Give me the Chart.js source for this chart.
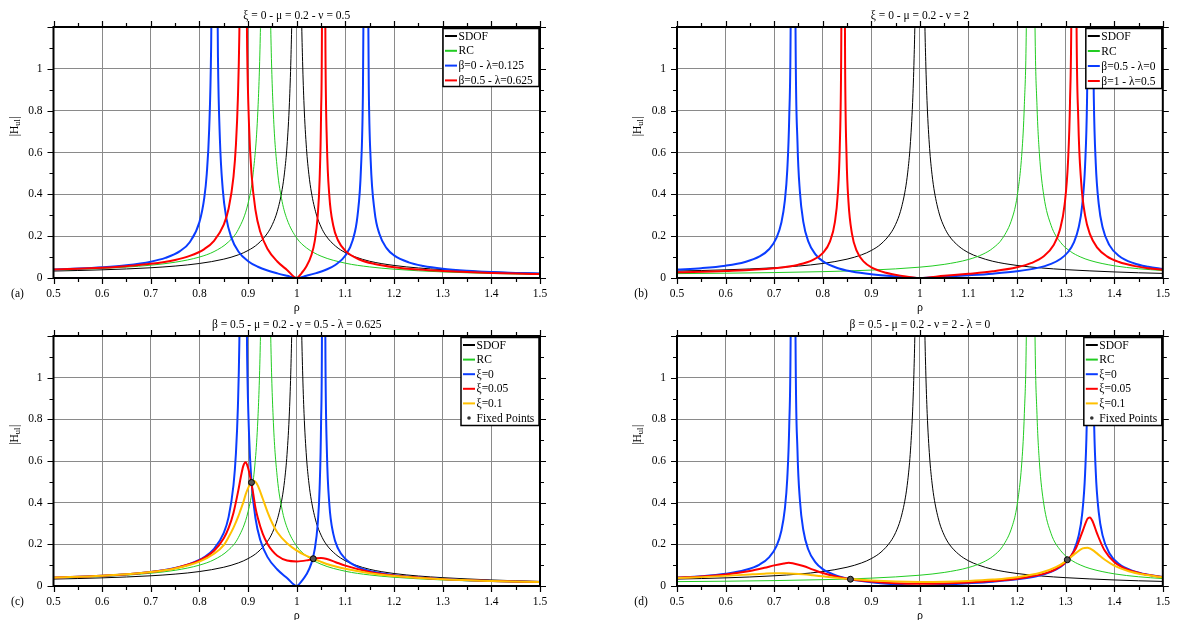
<!DOCTYPE html>
<html><head><meta charset="utf-8">
<script src="https://cdn.jsdelivr.net/npm/chart.js@4"></script>
<style>
html,body{margin:0;padding:0;background:#fff;}
#wrap{position:relative;width:1179px;height:620px;overflow:hidden;}
canvas{position:absolute;}
</style></head><body>
<div id="wrap">
<canvas id="cc" width="590" height="310" style="left:0;top:310px"></canvas>
<canvas id="cd" width="589" height="310" style="left:590px;top:310px"></canvas>
<canvas id="ca" width="590" height="320" style="left:0;top:0"></canvas>
<canvas id="cb" width="589" height="320" style="left:590px;top:0"></canvas>
</div>
<script>
// ---------- titles / labels ----------
const titles = ['ξ = 0 - μ = 0.2 - ν = 0.5', 'ξ = 0 - μ = 0.2 - ν = 2',
  'β = 0.5 - μ = 0.2 - ν = 0.5 - λ = 0.625', 'β = 0.5 - μ = 0.2 - ν = 2 - λ = 0'];
const letters = ['(a)', '(b)', '(c)', '(d)'];
const xTickStep = 0.1, yTickStep = 0.2;
const legendA = ['SDOF', 'RC', 'β=0 - λ=0.125', 'β=0.5 - λ=0.625'];
const legendB = ['SDOF', 'RC', 'β=0.5 - λ=0', 'β=1 - λ=0.5'];
const legendCD = ['SDOF', 'RC', 'ξ=0', 'ξ=0.05', 'ξ=0.1', 'Fixed Points'];

// ---------- SDOF ----------
const rhoSDOF = [0.5,0.55,0.6,0.65,0.7,0.75,0.8,0.85,0.88,0.9,0.92,0.94,0.95,0.96,0.97,0.975,0.98,0.985,0.988,0.99,0.993,0.996,1.004,1.007,1.01,1.012,1.015,1.02,1.025,1.03,1.04,1.05,1.06,1.08,1.1,1.12,1.15,1.2,1.25,1.3,1.35,1.4,1.45,1.5];
const sdof = [0.0333,0.0358,0.0391,0.0433,0.049,0.0571,0.0694,0.0901,0.1108,0.1316,0.1628,0.2148,0.2564,0.3189,0.423,0.5063,0.6313,0.8396,1.048,1.256,1.792,3.131,3.119,1.78,1.244,1.036,0.827,0.619,0.494,0.411,0.306,0.244,0.202,0.152,0.121,0.101,0.08,0.06,0.048,0.04,0.034,0.029,0.025,0.022];

// ---------- RC, nu = 0.5 ----------
const rhoRC05 = [0.5,0.55,0.6,0.65,0.7,0.75,0.8,0.83,0.86,0.88,0.9,0.91,0.92,0.925,0.928,0.932,0.94,0.944,0.947,0.952,0.96,0.97,0.98,1.0,1.02,1.05,1.1,1.15,1.2,1.25,1.3,1.35,1.4,1.45,1.5];
const rc05 = [0.0378,0.0412,0.0458,0.0521,0.0613,0.0754,0.1002,0.1263,0.1733,0.2326,0.3576,0.4927,0.7965,1.154,1.585,3.158,3.16,1.575,1.143,0.7835,0.5201,0.3652,0.2807,0.1909,0.144,0.1045,0.0708,0.053,0.042,0.0345,0.0291,0.025,0.0218,0.0193,0.0172];

// ---------- RC, nu = 2 ----------
const rhoRC2 = [0.5,0.6,0.7,0.8,0.9,1.0,1.05,1.1,1.13,1.15,1.17,1.19,1.2,1.21,1.215,1.219,1.224,1.232,1.237,1.241,1.246,1.255,1.27,1.29,1.31,1.33,1.35,1.4,1.45,1.5];
const rc2 = [0.021,0.023,0.0259,0.0304,0.0378,0.0519,0.0651,0.0886,0.1142,0.1423,0.1896,0.2869,0.388,0.601,0.8286,1.194,2.67,2.70,1.194,0.824,0.594,0.394,0.2518,0.1691,0.1268,0.1012,0.0839,0.0584,0.0444,0.0356];

// ---------- (a) beta=0, lambda=0.125 ----------
const rhoA1 = [0.5,0.55,0.6,0.65,0.7,0.73,0.76,0.78,0.8,0.81,0.815,0.82,0.824,0.827,0.835,0.838,0.842,0.848,0.855,0.865,0.88,0.9,0.92,0.94,0.96,0.98,1.0,1.02,1.04,1.06,1.08,1.1,1.115,1.125,1.132,1.136,1.139,1.145,1.148,1.152,1.16,1.17,1.185,1.2,1.23,1.26,1.3,1.35,1.4,1.45,1.5];
const hA1 = [0.0404,0.0449,0.0513,0.0611,0.0781,0.096,0.1286,0.1712,0.2678,0.3845,0.4973,0.7122,1.104,1.91,1.88,1.062,0.6657,0.421,0.2902,0.1965,0.127,0.0805,0.0538,0.0358,0.0222,0.0107,0,0.0109,0.0234,0.0395,0.0634,0.1073,0.1805,0.2994,0.5228,0.883,1.78,1.84,0.924,0.561,0.3186,0.2101,0.1416,0.1081,0.0747,0.0578,0.0447,0.0351,0.0288,0.0245,0.0212];

// ---------- beta=0.5, lambda=0.625, xi=0 (red in a, blue in c) ----------
const rhoA2 = [0.5,0.55,0.6,0.65,0.7,0.75,0.78,0.81,0.83,0.85,0.86,0.87,0.875,0.879,0.882,0.885,0.895,0.898,0.902,0.907,0.915,0.925,0.94,0.96,0.98,1.0,1.01,1.02,1.03,1.037,1.043,1.047,1.05,1.052,1.054,1.057,1.059,1.062,1.067,1.075,1.085,1.1,1.13,1.16,1.2,1.25,1.3,1.35,1.4,1.45,1.5];
const hA2 = [0.0401,0.0439,0.0492,0.0566,0.0677,0.0865,0.1056,0.1384,0.1777,0.2553,0.332,0.4848,0.637,0.858,1.169,1.85,1.786,1.10,0.724,0.4998,0.327,0.2207,0.1386,0.0791,0.0385,0,0.0237,0.056,0.1087,0.1766,0.295,0.47,0.784,1.341,4.1,2.13,1.09,0.642,0.3925,0.2512,0.1792,0.1295,0.0871,0.0671,0.0519,0.0406,0.0333,0.0281,0.0243,0.0213,0.0189];

// ---------- beta=0.5, lambda=0, xi=0 (blue in b and d) ----------
const rhoB1 = [0.5,0.55,0.6,0.64,0.67,0.69,0.705,0.715,0.722,0.727,0.731,0.734,0.737,0.741,0.744,0.748,0.753,0.76,0.77,0.785,0.8,0.83,0.86,0.9,0.95,1.0,1.05,1.1,1.15,1.2,1.24,1.27,1.29,1.305,1.317,1.327,1.334,1.34,1.344,1.347,1.355,1.358,1.362,1.368,1.376,1.39,1.41,1.44,1.47,1.5];
const hB1 = [0.0402,0.047,0.0587,0.0764,0.103,0.1387,0.1929,0.2667,0.37,0.517,0.768,1.22,3.04,2.96,1.18,0.649,0.4115,0.2687,0.1765,0.1132,0.0809,0.0479,0.031,0.0177,0.0074,0,0.0064,0.0129,0.0207,0.0319,0.0471,0.0677,0.0922,0.1243,0.1703,0.2436,0.346,0.538,0.848,1.49,1.50,0.857,0.547,0.356,0.243,0.1573,0.1052,0.0707,0.0535,0.0432];

// ---------- (b) beta=1, lambda=0.5 ----------
const rhoB2 = [0.5,0.6,0.7,0.75,0.78,0.8,0.815,0.825,0.831,0.835,0.838,0.84,0.844,0.846,0.849,0.853,0.86,0.87,0.885,0.9,0.93,0.96,1.0,1.05,1.1,1.15,1.2,1.23,1.255,1.275,1.288,1.298,1.305,1.309,1.312,1.315,1.319,1.322,1.326,1.332,1.34,1.35,1.365,1.385,1.41,1.44,1.47,1.5];
const hB2 = [0.0275,0.0334,0.0468,0.0637,0.0865,0.1192,0.1753,0.2673,0.4027,0.622,1.073,2.13,2.09,1.033,0.582,0.3627,0.2136,0.1297,0.0767,0.0509,0.0249,0.0113,0,0.0103,0.02,0.0319,0.0511,0.072,0.1041,0.1567,0.2295,0.353,0.562,0.845,1.355,3.4,3.4,1.364,0.76,0.457,0.2995,0.2098,0.1452,0.1033,0.0762,0.058,0.0469,0.0393];

// ---------- (c) damped ----------
const rhoC = [0.5,0.6,0.7,0.75,0.8,0.83,0.85,0.86,0.87,0.88,0.885,0.89,0.895,0.9,0.905,0.91,0.915,0.92,0.93,0.94,0.95,0.96,0.98,1.0,1.02,1.03,1.04,1.05,1.06,1.08,1.1,1.15,1.2,1.3,1.4,1.5];
const hC005 = [0.0401,0.0491,0.0675,0.0859,0.1224,0.1689,0.229,0.2785,0.352,0.46,0.523,0.5756,0.5944,0.5667,0.515,0.45,0.3776,0.3262,0.251,0.2016,0.1682,0.1452,0.122,0.118,0.123,0.128,0.133,0.134,0.131,0.1143,0.0979,0.0675,0.0504,0.033,0.0242,0.019];
const hC01 = [0.04,0.049,0.0669,0.0843,0.1171,0.1546,0.1966,0.235,0.28,0.335,0.368,0.40,0.44,0.47,0.493,0.505,0.50,0.482,0.42,0.355,0.30,0.258,0.205,0.17,0.145,0.135,0.126,0.116,0.107,0.0935,0.0825,0.0615,0.048,0.0323,0.0239,0.0188];
const fixRhoC = [0.907, 1.034];
const fixHC = [0.497, 0.131];

// ---------- (d) damped ----------
const rhoD = [0.5,0.55,0.6,0.65,0.68,0.7,0.72,0.73,0.74,0.76,0.78,0.8,0.83,0.857,0.9,0.95,1.0,1.05,1.1,1.15,1.2,1.25,1.28,1.3,1.32,1.335,1.345,1.35,1.355,1.365,1.38,1.4,1.43,1.46,1.5];
const hD005 = [0.0396,0.0457,0.0554,0.072,0.0873,0.0991,0.1084,0.112,0.1082,0.096,0.0785,0.0623,0.044,0.0327,0.021,0.0133,0.0105,0.0121,0.0167,0.0237,0.0349,0.0559,0.0815,0.1135,0.176,0.2636,0.3228,0.329,0.313,0.2498,0.1712,0.1155,0.0766,0.0572,0.0428];
const hD01 = [0.038,0.0426,0.0486,0.0556,0.0593,0.0608,0.0608,0.0603,0.0591,0.0558,0.0513,0.0463,0.039,0.0332,0.0263,0.0215,0.0198,0.0208,0.0244,0.031,0.0423,0.0645,0.0903,0.1182,0.1564,0.1808,0.1837,0.18,0.1734,0.1554,0.1271,0.0979,0.0707,0.0548,0.0419];
const fixRhoD = [0.857, 1.3035];
const fixHD = [0.0325, 0.126];

// ---------- styling ----------
const FONT = '"Liberation Serif","Times New Roman",serif';
const C_BLACK = '#000000', C_GREEN = '#22cc22', C_BLUE = '#0a3cff', C_RED = '#ff0000', C_YEL = '#ffc000';

function pts(xs, ys) { return xs.map((x, i) => ({x: x, y: ys[i]})); }
function lineDs(label, xs, ys, color, w, order) {
  return {label, data: pts(xs, ys), borderColor: color, backgroundColor: color, borderWidth: w,
    showLine: true, pointRadius: 0, pointHoverRadius: 0, cubicInterpolationMode: 'monotone',
    fill: false, order};
}
function dotDs(label, xs, ys) {
  return {label, data: pts(xs, ys), showLine: false, pointRadius: 3, pointBackgroundColor: '#555',
    pointBorderColor: '#000', pointBorderWidth: 1, borderColor: '#000', backgroundColor: '#555', order: 0};
}

const decor = {
  id: 'decor',
  afterDraw(chart) {
    const o = chart.options.plugins.decor;
    const ctx = chart.ctx, a = chart.chartArea;
    const xs = chart.scales.x, ys = chart.scales.y;
    ctx.save();
    // ticks on four sides
    ctx.strokeStyle = '#000'; ctx.lineWidth = 1.2;
    ctx.beginPath();
    for (let i = 0; i <= 20; i++) {
      const v = 0.5 + i * 0.05; const px = Math.round(xs.getPixelForValue(v)) + 0.5;
      const L = (i % 2 === 0) ? 6 : 4;
      ctx.moveTo(px, a.bottom); ctx.lineTo(px, a.bottom + L);
      ctx.moveTo(px, a.top); ctx.lineTo(px, a.top - L);
    }
    for (let i = 0; i <= 12; i++) {
      const v = i * 0.1; const py = Math.round(ys.getPixelForValue(v)) + 0.5;
      const L = (i % 2 === 0) ? 6 : 4;
      ctx.moveTo(a.left, py); ctx.lineTo(a.left - L, py);
      ctx.moveTo(a.right, py); ctx.lineTo(a.right + L, py);
    }
    ctx.stroke();
    // frame
    ctx.lineWidth = 2;
    ctx.strokeRect(a.left, a.top, a.right - a.left, a.bottom - a.top);
    // title
    ctx.fillStyle = '#000';
    ctx.font = '11.5px ' + FONT;
    ctx.textAlign = 'center'; ctx.textBaseline = 'middle';
    ctx.fillText(o.title, (a.left + a.right) / 2, a.top - 11);
    // x label
    ctx.font = '12px ' + FONT;
    ctx.fillText('ρ', (a.left + a.right) / 2, a.bottom + 30);
    // letter
    ctx.font = '11.5px ' + FONT;
    ctx.fillText(o.letter, a.left - 36, a.bottom + 16);
    // y label |H_ul|
    ctx.save();
    ctx.translate(a.left - 39, (a.top + a.bottom) / 2 - 26);
    ctx.rotate(-Math.PI / 2);
    ctx.textAlign = 'left'; ctx.textBaseline = 'middle';
    ctx.font = '11.5px ' + FONT;
    const w1 = ctx.measureText('|H').width;
    ctx.font = '8.5px ' + FONT;
    const w2 = ctx.measureText('ul').width;
    ctx.font = '11.5px ' + FONT;
    const w3 = ctx.measureText('|').width;
    let x0 = -(w1 + w2 + w3) / 2;
    ctx.fillText('|H', x0, 0);
    ctx.font = '8.5px ' + FONT;
    ctx.fillText('ul', x0 + w1, 3);
    ctx.font = '11.5px ' + FONT;
    ctx.fillText('|', x0 + w1 + w2 + 0.5, 0);
    ctx.restore();
    // legend
    const lg = o.legend;
    const bx = a.right - 1 - lg.w, by = a.top + 1.5;
    ctx.fillStyle = '#fff';
    ctx.fillRect(bx, by, lg.w, lg.h);
    ctx.strokeStyle = '#000'; ctx.lineWidth = 1.5;
    ctx.strokeRect(bx, by, lg.w, lg.h);
    ctx.font = '11.5px ' + FONT;
    ctx.textAlign = 'left'; ctx.textBaseline = 'middle';
    lg.items.forEach((it, i) => {
      const cy = by + 7.5 + i * lg.step;
      if (it.dot) {
        ctx.beginPath(); ctx.arc(bx + 8, cy, 1.8, 0, Math.PI * 2);
        ctx.fillStyle = '#333'; ctx.fill();
      } else {
        ctx.strokeStyle = it.color; ctx.lineWidth = it.w;
        ctx.beginPath(); ctx.moveTo(bx + 2, cy); ctx.lineTo(bx + 14, cy); ctx.stroke();
      }
      ctx.fillStyle = '#000';
      ctx.fillText(it.label, bx + 15.5, cy + 0.5);
    });
    ctx.restore();
  }
};

function makeChart(id, datasets, cfg) {
  const el = document.getElementById(id);
  return new Chart(el, {
    type: 'scatter',
    data: {datasets},
    plugins: [decor],
    options: {
      responsive: false, animation: false, events: [],
      layout: {padding: cfg.pad},
      plugins: {legend: {display: false}, tooltip: {enabled: false}, title: {display: false},
        decor: {title: cfg.title, letter: cfg.letter, legend: cfg.legend}},
      scales: {
        x: {type: 'linear', min: 0.5, max: 1.5,
          afterFit: s => { s.height = cfg.xH; },
          border: {display: false},
          grid: {color: '#8a8a8a', lineWidth: 1, drawTicks: false},
          ticks: {stepSize: xTickStep, autoSkip: false, padding: 9, color: '#000', maxRotation: 0,
            font: {family: FONT, size: 11.5},
            callback: v => String(Math.round(v * 10) / 10)}},
        y: {type: 'linear', min: 0, max: 1.2,
          afterFit: s => { s.width = cfg.yW; },
          border: {display: false},
          grid: {color: '#8a8a8a', lineWidth: 1, drawTicks: false},
          ticks: {stepSize: yTickStep, autoSkip: false, padding: 11, color: '#000',
            font: {family: FONT, size: 11.5},
            callback: v => (v > 1.15 ? '' : String(Math.round(v * 10) / 10))}}
      }
    }
  });
}

function items(labels, colors, widths) {
  return labels.map((l, i) => ({label: l, color: colors[i], w: widths[i], dot: colors[i] === null}));
}

// (a)
makeChart('ca', [
  lineDs(legendA[0], rhoSDOF, sdof, C_BLACK, 1, 5),
  lineDs(legendA[1], rhoRC05, rc05, C_GREEN, 1, 4),
  lineDs(legendA[2], rhoA1, hA1, C_BLUE, 2, 3),
  lineDs(legendA[3], rhoA2, hA2, C_RED, 2, 2)
], {pad: {left: 0, top: 27, right: 50, bottom: 0}, yW: 53.5, xH: 42, title: titles[0], letter: letters[0],
  legend: {w: 96, h: 58, step: 14.8, items: items(legendA, [C_BLACK, C_GREEN, C_BLUE, C_RED], [2, 2, 2, 2])}});

// (b)
makeChart('cb', [
  lineDs(legendB[0], rhoSDOF, sdof, C_BLACK, 1, 5),
  lineDs(legendB[1], rhoRC2, rc2, C_GREEN, 1, 4),
  lineDs(legendB[2], rhoB1, hB1, C_BLUE, 2, 3),
  lineDs(legendB[3], rhoB2, hB2, C_RED, 2, 2)
], {pad: {left: 0, top: 27, right: 14, bottom: 0}, yW: 87, xH: 42, title: titles[1], letter: letters[1],
  legend: {w: 76, h: 60, step: 15, items: items(legendB, [C_BLACK, C_GREEN, C_BLUE, C_RED], [2, 2, 2, 2])}});

// (c)
makeChart('cc', [
  lineDs(legendCD[0], rhoSDOF, sdof, C_BLACK, 1, 6),
  lineDs(legendCD[1], rhoRC05, rc05, C_GREEN, 1, 5),
  lineDs(legendCD[2], rhoA2, hA2, C_BLUE, 2, 4),
  lineDs(legendCD[3], rhoC, hC005, C_RED, 2, 3),
  lineDs(legendCD[4], rhoC, hC01, C_YEL, 2, 2),
  dotDs(legendCD[5], fixRhoC, fixHC)
], {pad: {left: 0, top: 26, right: 50, bottom: 0}, yW: 53.5, xH: 34, title: titles[2], letter: letters[2],
  legend: {w: 78, h: 88, step: 14.6, items: items(legendCD, [C_BLACK, C_GREEN, C_BLUE, C_RED, C_YEL, null], [2, 2, 2, 2, 2, 0])}});

// (d)
makeChart('cd', [
  lineDs(legendCD[0], rhoSDOF, sdof, C_BLACK, 1, 6),
  lineDs(legendCD[1], rhoRC2, rc2, C_GREEN, 1, 5),
  lineDs(legendCD[2], rhoB1, hB1, C_BLUE, 2, 4),
  lineDs(legendCD[3], rhoD, hD005, C_RED, 2, 3),
  lineDs(legendCD[4], rhoD, hD01, C_YEL, 2, 2),
  dotDs(legendCD[5], fixRhoD, fixHD)
], {pad: {left: 0, top: 26, right: 14, bottom: 0}, yW: 87, xH: 34, title: titles[3], letter: letters[3],
  legend: {w: 78, h: 88, step: 14.6, items: items(legendCD, [C_BLACK, C_GREEN, C_BLUE, C_RED, C_YEL, null], [2, 2, 2, 2, 2, 0])}});
</script>
</body></html>
